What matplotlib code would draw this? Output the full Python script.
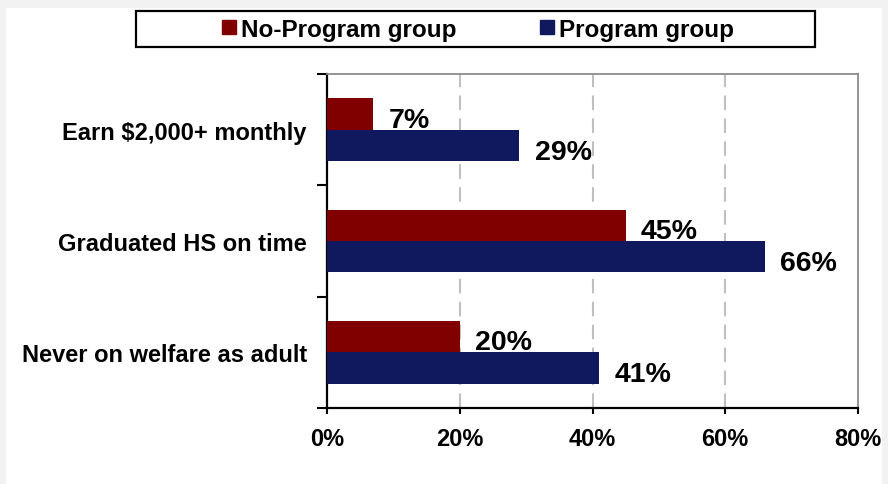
import numpy as np
import matplotlib
matplotlib.use("Agg")
import matplotlib.pyplot as plt
from matplotlib.patches import Rectangle
from matplotlib.lines import Line2D

plt.rcParams['font.family'] = ['Liberation Sans', 'DejaVu Sans']
plt.rcParams['font.weight'] = 'bold'

categories = ["Earn $2,000+ monthly", "Graduated HS on time", "Never on welfare as adult"]
no_program = [7, 45, 20]
program = [29, 66, 41]
series_names = ["No-Program group", "Program group"]
xticks = [0, 20, 40, 60, 80]
xtick_labels = ["0%", "20%", "40%", "60%", "80%"]

RED = '#800000'
BLUE = '#11195E'

W, H = 888, 485
fig = plt.figure(figsize=(W / 100, H / 100), dpi=100)
fig.patch.set_facecolor('#f2f2f2')
fig.patches.append(Rectangle((6 / W, 0), (882 - 6) / W, 1 - 9 / H,
                             transform=fig.transFigure, facecolor='white',
                             edgecolor='none', zorder=-10))

ax = fig.add_axes([327 / W, 1 - 409 / H, (858 - 327) / W, (409 - 75) / H])
ax.set_facecolor('white')

y = np.arange(len(categories))
h = 0.28
ax.barh(y - h / 2, no_program, height=h, color=RED, zorder=3)
ax.barh(y + h / 2, program, height=h, color=BLUE, zorder=3)

for yi, v in zip(y - h / 2, no_program):
    ax.annotate(f"{v}%", xy=(v, yi), xytext=(11, -4), textcoords='offset points',
                ha='left', va='center', fontsize=20.5, fontweight='bold', color='black')
for yi, v in zip(y + h / 2, program):
    ax.annotate(f"{v}%", xy=(v, yi), xytext=(11, -4.5), textcoords='offset points',
                ha='left', va='center', fontsize=20.5, fontweight='bold', color='black')

ax.set_xlim(0, 80)
ax.set_ylim(len(categories) - 0.5, -0.5)

ax.set_xticks(xticks)
ax.set_xticklabels(xtick_labels, fontsize=17, fontweight='bold')
ax.tick_params(axis='x', direction='out', length=4, width=1.5, pad=10, colors='black')

ax.set_yticks(np.arange(len(categories) + 1) - 0.5)
ax.set_yticklabels([])
ax.set_yticks(y, minor=True)
ax.set_yticklabels(categories, minor=True, fontsize=17, fontweight='bold')
ax.tick_params(axis='y', which='major', direction='out', length=7, width=1.5, colors='black')
ax.tick_params(axis='y', which='minor', length=0, pad=14.5)

for gx in [20, 40, 60]:
    ax.axvline(gx, color='#c0c0c0', lw=1.5, linestyle=(0, (7, 4)), zorder=1)

ax.spines['left'].set_color('black')
ax.spines['left'].set_linewidth(1.6)
ax.spines['bottom'].set_color('black')
ax.spines['bottom'].set_linewidth(1.6)
ax.spines['top'].set_color('#8c8c8c')
ax.spines['top'].set_linewidth(1.3)
ax.spines['right'].set_color('#8c8c8c')
ax.spines['right'].set_linewidth(1.3)

# legend frame
fig.patches.append(Rectangle((136 / W, 1 - 48 / H), (815 - 136) / W, 36 / H,
                             transform=fig.transFigure, facecolor='white',
                             edgecolor='black', linewidth=1.6, zorder=5))
handles = [Line2D([], [], marker='s', color=RED, linestyle='none', markersize=10),
           Line2D([], [], marker='s', color=BLUE, linestyle='none', markersize=10)]
leg = fig.legend(handles, series_names, loc='center',
                 bbox_to_anchor=(478 / W, 1 - 30 / H), ncol=2, frameon=False,
                 prop={'size': 17.5, 'weight': 'bold'}, handlelength=0.6,
                 handletextpad=0.2, columnspacing=3.4, borderpad=0, borderaxespad=0)
leg.set_zorder(6)

fig.savefig("out.png", dpi=100, facecolor=fig.get_facecolor())
